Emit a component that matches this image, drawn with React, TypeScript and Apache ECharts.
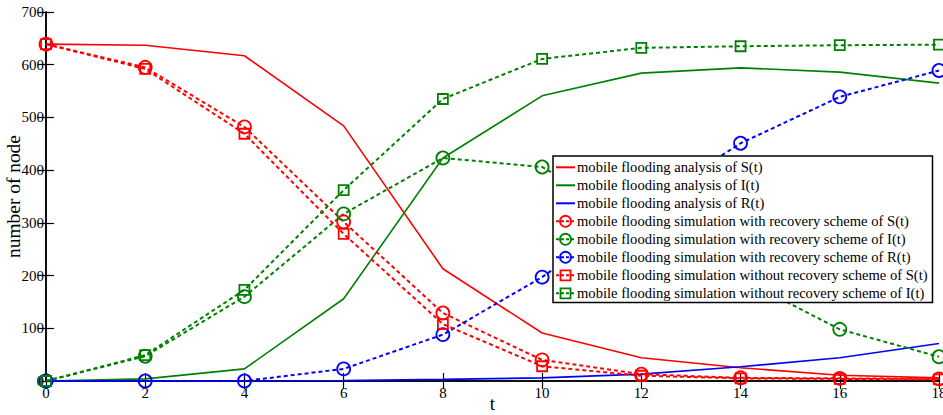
import React, { useEffect, useRef } from "react";
import * as echarts from "echarts";

const tValues = [0, 2, 4, 6, 8, 10, 12, 14, 16, 18];
const analysisS = [639, 637, 617, 484, 213, 91, 44, 25, 11, 6];
const analysisI = [0, 4, 23, 156, 423, 541, 584, 594, 586, 565];
const analysisR = [0, 0, 0, 1, 3, 6, 13, 27, 44, 71];
const simRecS = [639, 595, 482, 302, 129, 40, 13, 6, 5, 4];
const simRecI = [0, 47, 160, 317, 423, 406, 300, 195, 98, 46];
const simRecR = [0, 0, 0, 23, 88, 197, 330, 451, 539, 589];
const simNoS = [639, 592, 469, 279, 108, 28, 10, 5, 4, 3];
const simNoI = [0, 49, 173, 362, 535, 611, 632, 635, 637, 638];

const seriesNames = [
  "mobile flooding analysis of S(t)",
  "mobile flooding analysis of I(t)",
  "mobile flooding analysis of R(t)",
  "mobile flooding simulation with recovery scheme of S(t)",
  "mobile flooding simulation with recovery scheme of I(t)",
  "mobile flooding simulation with recovery scheme of R(t)",
  "mobile flooding simulation without recovery scheme of S(t)",
  "mobile flooding simulation without recovery scheme of I(t)",
];

const RED = "#ff0000";
const GREEN = "#008000";
const BLUE = "#0000ff";
const FONT = "'Liberation Serif', 'Times New Roman', serif";

const seriesColors = [RED, GREEN, BLUE, RED, GREEN, BLUE, RED, GREEN];
const seriesMarkers = ["none", "none", "none", "circle", "circle", "circle", "rect", "rect"];

function pairs(vals: number[]) {
  return tValues.map((t, i) => [t, vals[i]]);
}

function solid(name: string, vals: number[], color: string) {
  return {
    name,
    type: "line",
    data: pairs(vals),
    symbol: "none",
    showSymbol: false,
    lineStyle: { color, width: 1.6, type: "solid" },
    itemStyle: { color },
    z: 2,
  };
}

function marked(name: string, vals: number[], color: string, symbol: string, size: number) {
  return {
    name,
    type: "line",
    data: pairs(vals),
    symbol,
    symbolSize: size,
    showSymbol: true,
    lineStyle: { color, width: 2, type: [4, 3] },
    itemStyle: { color: "rgba(255,255,255,0)", borderColor: color, borderWidth: 1.8 },
    z: 3,
  };
}

function buildLegend() {
  const boxX = 553;
  const boxY = 156;
  const boxW = 379.5;
  const boxH = 146.5;
  const row0 = 167.3;
  const rowH = 18;
  const iconX0 = 556;
  const iconX1 = 575;
  const iconMid = (iconX0 + iconX1) / 2;
  const children: any[] = [
    {
      type: "rect",
      shape: { x: boxX, y: boxY, width: boxW, height: boxH },
      style: { fill: "#fff", stroke: "#000", lineWidth: 1.5 },
      z: 100,
    },
  ];
  seriesNames.forEach((name, i) => {
    const y = row0 + rowH * i;
    const color = seriesColors[i];
    const marker = seriesMarkers[i];
    children.push({
      type: "line",
      shape: { x1: iconX0, y1: y, x2: iconX1, y2: y },
      style: {
        stroke: color,
        lineWidth: 2,
        lineDash: marker === "none" ? null : [3, 2],
      },
      z: 101,
    });
    if (marker === "circle") {
      children.push({
        type: "circle",
        shape: { cx: iconMid, cy: y, r: 5.5 },
        style: { fill: "rgba(255,255,255,0)", stroke: color, lineWidth: 1.8 },
        z: 102,
      });
    } else if (marker === "rect") {
      children.push({
        type: "rect",
        shape: { x: iconMid - 5, y: y - 5, width: 10, height: 10 },
        style: { fill: "rgba(255,255,255,0)", stroke: color, lineWidth: 1.8 },
        z: 102,
      });
    }
    children.push({
      type: "text",
      x: 577,
      y,
      style: {
        text: name,
        fontFamily: FONT,
        fontSize: 14.6,
        fill: "#000",
        verticalAlign: "middle",
        align: "left",
      },
      z: 103,
    });
  });
  return children;
}

export default function App() {
  const ref = useRef<HTMLDivElement>(null);
  useEffect(() => {
    if (!ref.current) return;
    const chart = echarts.init(ref.current, null, { renderer: "svg" });
    const axisLine = { show: true, lineStyle: { color: "#000", width: 1.5 } };
    const axisTick = { show: true, inside: true, length: 8, lineStyle: { color: "#000", width: 1.2 } };
    chart.setOption({
      animation: false,
      backgroundColor: "#fff",
      textStyle: { fontFamily: FONT },
      grid: { left: 46, top: 12, right: 4, bottom: 34, containLabel: false, outerBoundsMode: "none" },
      graphic: buildLegend(),
      xAxis: [
        {
          type: "value",
          min: 0,
          max: 18,
          interval: 2,
          name: "t",
          nameLocation: "middle",
          nameGap: 13,
          nameMoveOverlap: false,
          nameTextStyle: { fontFamily: FONT, fontSize: 19, color: "#000" },
          axisLine,
          axisTick,
          splitLine: { show: false },
          axisLabel: { fontFamily: FONT, fontSize: 15, color: "#000", margin: 4 },
        },
        {
          type: "value",
          position: "top",
          min: 0,
          max: 18,
          interval: 2,
          axisLine,
          axisTick,
          splitLine: { show: false },
          axisLabel: { show: false },
        },
      ],
      yAxis: [
        {
          type: "value",
          min: 0,
          max: 700,
          interval: 100,
          name: "number of node",
          nameLocation: "middle",
          nameGap: 23,
          nameMoveOverlap: false,
          nameTextStyle: { fontFamily: FONT, fontSize: 19.4, color: "#000" },
          axisLine,
          axisTick,
          splitLine: { show: false },
          axisLabel: { fontFamily: FONT, fontSize: 15, color: "#000", margin: 2 },
        },
        {
          type: "value",
          position: "right",
          min: 0,
          max: 700,
          interval: 100,
          axisLine,
          axisTick,
          splitLine: { show: false },
          axisLabel: { show: false },
        },
      ],
      series: [
        solid(seriesNames[0], analysisS, RED),
        solid(seriesNames[1], analysisI, GREEN),
        solid(seriesNames[2], analysisR, BLUE),
        marked(seriesNames[3], simRecS, RED, "circle", 13),
        marked(seriesNames[4], simRecI, GREEN, "circle", 13),
        marked(seriesNames[5], simRecR, BLUE, "circle", 13),
        marked(seriesNames[6], simNoS, RED, "rect", 10),
        marked(seriesNames[7], simNoI, GREEN, "rect", 10),
      ],
    });
    return () => chart.dispose();
  }, []);
  return (
    <div
      ref={ref}
      style={{ position: "fixed", left: 0, top: 0, width: 943, height: 415, background: "#fff" }}
    />
  );
}
